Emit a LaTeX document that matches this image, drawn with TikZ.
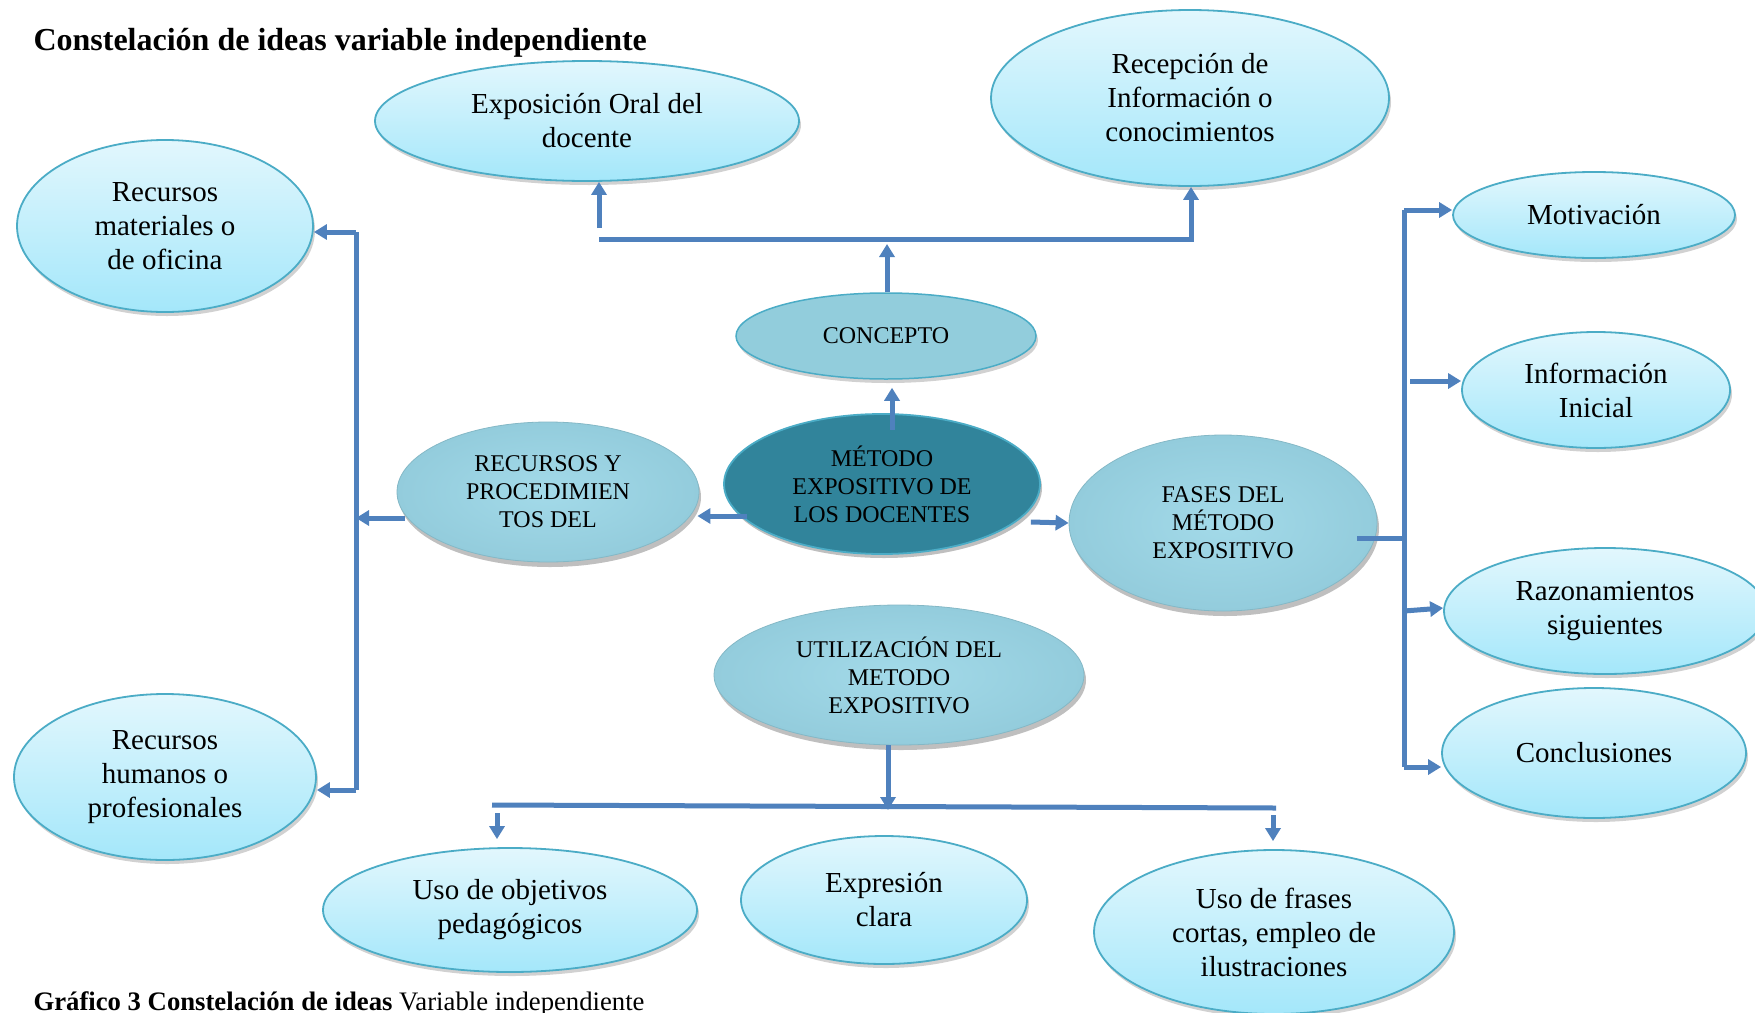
\documentclass[tikz,border=0pt]{standalone}
\usepackage{fontspec}
\setmainfont{Liberation Serif}
\usepackage{xcolor}
\usetikzlibrary{shapes.geometric, arrows.meta, shadows, calc, positioning}

\definecolor{flechaazul}{HTML}{4F81BD}
\definecolor{bordeaqua}{HTML}{4BACC6}
\definecolor{claroarriba}{HTML}{E2F7FD}
\definecolor{claroabajo}{HTML}{A4E7FA}
\definecolor{mediocentro}{HTML}{A3DAE9}
\definecolor{medioborde}{HTML}{93CCDC}
\definecolor{conceptoaqua}{HTML}{92CDDC}
\definecolor{oscuroaqua}{HTML}{31849B}

\tikzset{
	idea/.style={ellipse, draw=bordeaqua, line width=1.8pt, top color=claroarriba,
		bottom color=claroabajo, inner sep=0pt, align=center,
		font=\fontsize{29}{34}\selectfont,
		drop shadow={shadow xshift=2pt, shadow yshift=-4pt, opacity=0.18, fill=black}},
	eje/.style={ellipse, draw=medioborde!90!black, line width=0.8pt, inner color=mediocentro,
		outer color=medioborde, inner sep=0pt, align=center,
		font=\fontsize{24}{28}\selectfont,
		drop shadow={shadow xshift=2pt, shadow yshift=-5pt, opacity=0.25, fill=black}},
	flecha/.style={draw=flechaazul, line width=5pt, -{Triangle[width=15pt,length=13pt]}},
	linea/.style={draw=flechaazul, line width=5pt}
}

\begin{document}
\begin{tikzpicture}[x=1pt, y=-1pt]
	\useasboundingbox[fill=white] (0,0) rectangle (1755,1012);

	%% titulo y pie
	\node[anchor=base west, font=\bfseries\fontsize{32}{36}\selectfont] (titulo) at (30,50)
	{Constelación de ideas variable independiente};
	\node[anchor=base west, font=\fontsize{26.7}{30}\selectfont] (pie) at (30,1010)
	{\textbf{Gráfico 3 Constelación de ideas} Variable independiente};

	%% centro
	\node[ellipse, draw=bordeaqua, line width=1.8pt, fill=oscuroaqua, inner sep=0pt,
	align=center, font=\fontsize{24}{28}\selectfont, minimum width=316, minimum height=140,
	drop shadow={shadow xshift=2pt, shadow yshift=-4pt, opacity=0.25, fill=black}]
	(metodo) at (882,484) {MÉTODO\\EXPOSITIVO DE\\LOS DOCENTES};

	\node[ellipse, draw=bordeaqua, line width=1.5pt, fill=conceptoaqua, inner sep=0pt,
	font=\fontsize{24}{28}\selectfont, minimum width=300, minimum height=86,
	drop shadow={shadow xshift=2pt, shadow yshift=-4pt, opacity=0.18, fill=black}]
	(concepto) at (886,336) {CONCEPTO};

	\node[eje, minimum width=302, minimum height=140] (recproc) at (548,492)
	{RECURSOS Y\\PROCEDIMIEN\\TOS DEL};
	\node[eje, minimum width=308, minimum height=176] (fases) at (1223,523)
	{FASES DEL\\MÉTODO\\EXPOSITIVO};
	\node[eje, minimum width=370, minimum height=140] (util) at (899,675)
	{UTILIZACIÓN DEL\\METODO\\EXPOSITIVO};

	%% ideas
	\node[idea, minimum width=424, minimum height=120] (expo) at (587,121)
	{Exposición Oral del\\docente};
	\node[idea, minimum width=398, minimum height=176] (recep) at (1190,98)
	{Recepción de\\Información o\\conocimientos};
	\node[idea, minimum width=296, minimum height=172] (rmat) at (165,226)
	{Recursos\\materiales o\\de oficina};
	\node[idea, minimum width=302, minimum height=166] (rhum) at (165,777)
	{Recursos\\humanos o\\profesionales};
	\node[idea, minimum width=282, minimum height=86] (motiv) at (1594,215)
	{Motivación};
	\node[idea, minimum width=268, minimum height=116] (infoini) at (1596,390)
	{Información\\Inicial};
	\node[idea, minimum width=322, minimum height=126] (razon) at (1605,611)
	{Razonamientos\\siguientes};
	\node[idea, minimum width=304, minimum height=130] (concl) at (1594,753)
	{Conclusiones};
	\node[idea, minimum width=374, minimum height=124] (objet) at (510,910)
	{Uso de objetivos\\pedagógicos};
	\node[idea, minimum width=286, minimum height=128] (expre) at (884,900)
	{Expresión\\clara};
	\node[idea, minimum width=360, minimum height=164] (frases) at (1274,932)
	{Uso de frases\\cortas, empleo de\\ilustraciones};

	%% arriba
	\coordinate (barL) at (599,239);
	\coordinate (barR) at (1191,239);
	\coordinate (barM) at (887,244);
	\draw[flecha] (barL) -- (barR) -- (barR |- recep.south);
	\draw[flecha, shorten <=11pt] (barL) -- (barL |- expo.south);
	\draw[flecha] (concepto.north -| barM) -- (barM);
	\draw[flecha] ($(metodo.north)+(10,17)$) -- ($(concepto.south)+(6,8)$);

	%% izquierda
	\coordinate (lT) at (356,232);
	\coordinate (lB) at (356,790);
	\draw[linea] (lT) -- (lB);
	\draw[flecha] (lT) -- (lT -| rmat.east);
	\draw[flecha] (lB) -- (lB -| rhum.east);
	\draw[flecha] ($(recproc.west)+(8,26)$) -- (lT |- {$(recproc.west)+(8,26)$});
	\draw[flecha] ($(metodo.west)+(24,32)$) -- ($(recproc.east)+(-2,24)$);

	%% derecha
	\draw[flecha] ($(metodo.east)+(-10,38)$) -- (fases.west);
	\coordinate (rT) at (1404,210);
	\coordinate (rM) at (1404,538);
	\coordinate (rB) at (1404,767);
	\coordinate (rI) at (1410,381);
	\draw[linea] ($(fases.east)+(-20,15)$) -- (rM);
	\draw[linea] (rT) -- (rB);
	\draw[flecha] (rT) -- (rT -| motiv.west);
	\draw[flecha] (rI) -- (rI -| infoini.west);
	\draw[flecha] (rB |- razon.west) -- ($(razon.west)+(0,-3)$);
	\draw[flecha] (rB) -- (rB -| concl.west);

	%% abajo
	\coordinate (bL) at (492,805);
	\coordinate (bR) at (1276,808);
	\coordinate (bM) at (888,810);
	\coordinate (dL) at (497,813);
	\coordinate (dR) at (1273,815);
	\draw[linea] (bL) -- (bR);
	\draw[flecha] (util.south -| bM) -- (bM);
	\draw[flecha, shorten >=8pt] (dL) -- (dL |- objet.north);
	\draw[flecha, shorten >=8pt] (dR) -- (dR |- frases.north);
\end{tikzpicture}
\end{document}
